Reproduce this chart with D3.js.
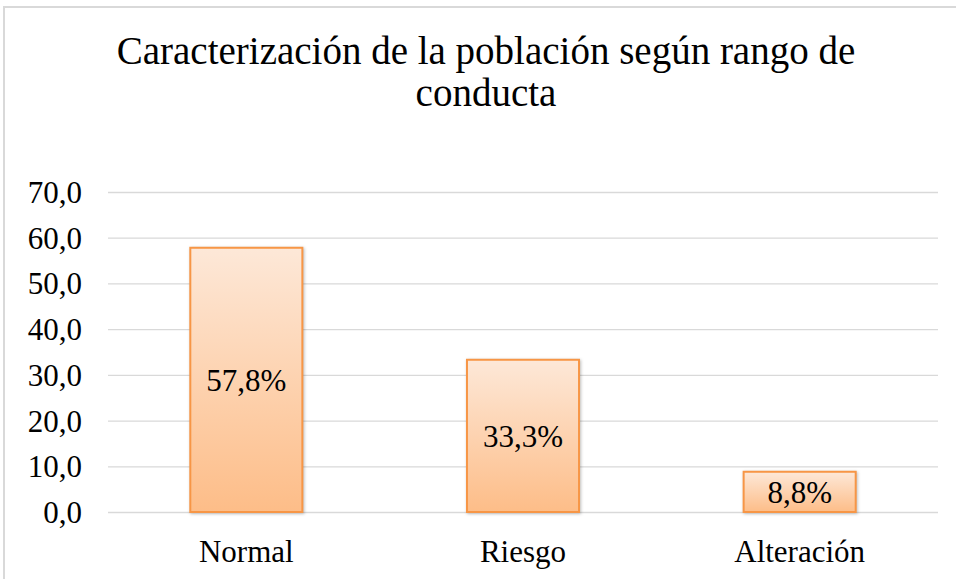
<!DOCTYPE html>
<html>
<head>
<meta charset="utf-8">
<script src="https://cdn.jsdelivr.net/npm/d3@7"></script>
<style>
  body { margin: 0; background: #fff; }
  svg text { font-family: "Liberation Serif", serif; }
</style>
</head>
<body>
<svg class="bar-chart"></svg>
<script>
var categories = ["Normal", "Riesgo", "Alteración"];
var values = [57.8, 33.3, 8.8];
var yTicks = [0, 10, 20, 30, 40, 50, 60, 70];
var titleLines = ["Caracterización de la población según rango de", "conducta"];

var width = 956, height = 579;
var margin = {top: 192, right: 18, bottom: 67, left: 108};
var plotW = width - margin.left - margin.right,
    plotH = height - margin.top - margin.bottom;
var serif = "'Liberation Serif', serif";

var svg = d3.select(".bar-chart")
    .attr("width", width)
    .attr("height", height);

// gradient for bars
var grad = svg.append("defs").append("linearGradient")
    .attr("id", "barFill")
    .attr("x1", 0).attr("y1", 0).attr("x2", 0).attr("y2", 1);
grad.append("stop").attr("offset", "0%").attr("stop-color", "#fde8d8");
grad.append("stop").attr("offset", "100%").attr("stop-color", "#fdbd88");

// outer frame
svg.append("rect")
    .attr("x", 4).attr("y", 7)
    .attr("width", width + 10).attr("height", height + 10)
    .attr("fill", "none")
    .attr("stroke", "#d9d9d9")
    .attr("stroke-width", 2);

svg.append("g").selectAll("text")
    .data(titleLines)
    .enter().append("text")
    .attr("x", 486)
    .attr("y", function(d, i) { return 64 + i * 42; })
    .attr("text-anchor", "middle")
    .style("font-family", serif)
    .style("font-size", "39px")
    .attr("fill", "#000")
    .text(function(d) { return d; });

var x = d3.scaleBand()
    .domain(categories)
    .range([0, plotW])
    .paddingInner(0.595)
    .paddingOuter(0.2975);

var y = d3.scaleLinear()
    .domain([0, 70])
    .range([plotH, 0]);

var g = svg.append("g")
    .attr("transform", "translate(" + margin.left + "," + margin.top + ")");

var yAxis = d3.axisLeft(y)
    .tickValues(yTicks)
    .tickSize(-plotW)
    .tickPadding(26)
    .tickFormat(function(d) { return d3.format(".1f")(d).replace(".", ","); });

g.append("g")
    .call(yAxis)
    .call(function(a) {
        a.select(".domain").remove();
        a.selectAll(".tick line").attr("stroke", "#d9d9d9").attr("stroke-width", 1.3);
        a.selectAll(".tick text")
            .attr("fill", "#000")
            .style("font-family", serif)
            .style("font-size", "31px")
            .attr("dy", "0.34em");
    });

g.selectAll(".bar")
    .data(values)
    .enter().append("rect")
    .attr("class", "bar")
    .attr("x", function(d, i) { return x(categories[i]); })
    .attr("y", function(d) { return y(d); })
    .attr("width", x.bandwidth())
    .attr("height", function(d) { return plotH - y(d); })
    .attr("fill", "url(#barFill)")
    .attr("stroke", "#f79646")
    .attr("stroke-width", 2)
    .style("filter", "drop-shadow(1px 1px 1.5px rgba(0,0,0,0.25))");

g.selectAll(".val")
    .data(values)
    .enter().append("text")
    .attr("class", "val")
    .attr("x", function(d, i) { return x(categories[i]) + x.bandwidth() / 2; })
    .attr("y", function(d) { return (y(d) + plotH) / 2; })
    .attr("dy", "0.36em")
    .attr("text-anchor", "middle")
    .style("font-family", serif)
    .style("font-size", "31px")
    .attr("fill", "#000")
    .text(function(d) { return d3.format(".1f")(d).replace(".", ",") + "%"; });

g.selectAll(".cat")
    .data(categories)
    .enter().append("text")
    .attr("class", "cat")
    .attr("x", function(d) { return x(d) + x.bandwidth() / 2; })
    .attr("y", plotH + 50)
    .attr("text-anchor", "middle")
    .style("font-family", serif)
    .style("font-size", "31px")
    .attr("fill", "#000")
    .text(function(d) { return d; });
</script>
</body>
</html>
